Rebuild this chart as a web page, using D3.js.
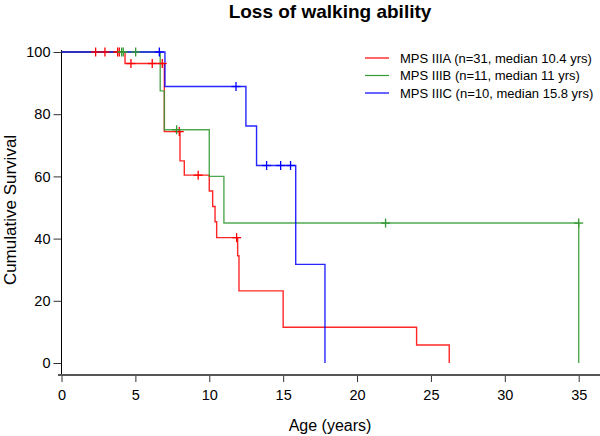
<!DOCTYPE html>
<html>
<head>
<meta charset="utf-8">
<script src="https://cdn.jsdelivr.net/npm/d3@7"></script>
<style>
  html, body { margin: 0; padding: 0; background: #fff; }
  svg { display: block; font-family: "Liberation Sans", Arial, Helvetica, sans-serif; }
</style>
</head>
<body>
<svg id="chart" width="600" height="436"></svg>
<script>
// ---- Data ----
const seriesNames = [
  "MPS IIIA (n=31, median 10.4 yrs)",
  "MPS IIIB (n=11, median 11 yrs)",
  "MPS IIIC (n=10, median 15.8 yrs)"
];
const seriesColors = ["#ff0000", "#339933", "#0000ff"];

// Step change times (years) and cumulative survival (%) after each step
const timesA = [0, 4.3, 6.96, 8.02, 8.31, 10.0, 10.23, 10.39, 10.5, 11.92, 12.01, 15.0, 24.03, 26.24];
const survA  = [100, 96.3, 74.4, 65.0, 60.4, 55.3, 50.3, 45.4, 40.3, 34.5, 23.2, 11.5, 5.8, 0];
const censorTimesA = [2.31, 2.94, 3.8, 3.91, 4.7, 6.14, 6.82, 7.97, 9.25, 11.85];
const censorSurvA  = [100, 100, 100, 100, 96.3, 96.3, 96.3, 74.4, 60.4, 40.3];

const timesB = [0, 6.68, 6.96, 10.0, 10.99, 35.0];
const survB  = [100, 87.5, 75.0, 60.0, 45.0, 0];
const censorTimesB = [4.07, 4.18, 5.02, 7.79, 21.93, 35.0];
const censorSurvB  = [100, 100, 100, 75.0, 45.0, 45.0];

const timesC = [0, 7.0, 12.48, 13.2, 15.85, 17.83];
const survC  = [100, 88.9, 76.2, 63.5, 31.7, 0];
const censorTimesC = [6.62, 11.81, 13.88, 14.83, 15.5];
const censorSurvC  = [100, 88.9, 63.5, 63.5, 63.5];

const xTicks = [0, 5, 10, 15, 20, 25, 30, 35];
const yTicks = [0, 20, 40, 60, 80, 100];

const titleText = "Loss of walking ability";
const xLabel = "Age (years)";
const yLabel = "Cumulative Survival";

// ---- Build series ----
const series = [
  { name: seriesNames[0], color: seriesColors[0], times: timesA, surv: survA, ct: censorTimesA, cs: censorSurvA },
  { name: seriesNames[1], color: seriesColors[1], times: timesB, surv: survB, ct: censorTimesB, cs: censorSurvB },
  { name: seriesNames[2], color: seriesColors[2], times: timesC, surv: survC, ct: censorTimesC, cs: censorSurvC }
];

const svg = d3.select("#chart");
const x = d3.scaleLinear().domain([0, 35]).range([61.5, 578.7]);
const y = d3.scaleLinear().domain([0, 100]).range([363, 52]);

// Title
svg.append("text")
  .attr("x", 330).attr("y", 18)
  .attr("text-anchor", "middle")
  .attr("font-size", 19).attr("font-weight", "bold")
  .text(titleText);

// Y axis
const yAxis = d3.axisLeft(y).tickValues(yTicks).tickSize(8).tickPadding(3).tickSizeOuter(0);
const gy = svg.append("g").attr("transform", "translate(61.5,0)").call(yAxis);
gy.select(".domain").remove();
gy.append("line").attr("x1", 0).attr("x2", 0).attr("y1", 50).attr("y2", 376).attr("stroke", "#000").attr("stroke-width", 1);
gy.selectAll(".tick line").attr("stroke", "#333");
gy.selectAll(".tick text").attr("font-size", 14.5).attr("fill", "#000")
  .style("font-family", "Liberation Sans, Arial, sans-serif");

// X axis
const xAxis = d3.axisBottom(x).tickValues(xTicks).tickSize(7).tickPadding(8).tickSizeOuter(0);
const gx = svg.append("g").attr("transform", "translate(0,375)").call(xAxis);
gx.select(".domain").remove();
gx.append("line").attr("x1", 58).attr("x2", 600).attr("y1", 0).attr("y2", 0).attr("stroke", "#555").attr("stroke-width", 2);
gx.selectAll(".tick line").attr("stroke", "#333");
gx.selectAll(".tick text").attr("font-size", 14.5).attr("fill", "#000")
  .style("font-family", "Liberation Sans, Arial, sans-serif");

// Axis labels
svg.append("text")
  .attr("x", 330).attr("y", 431)
  .attr("text-anchor", "middle").attr("font-size", 16)
  .text(xLabel);
svg.append("text")
  .attr("transform", "translate(16,210) rotate(-90)")
  .attr("text-anchor", "middle").attr("font-size", 17)
  .text(yLabel);

// Curves
const line = d3.line()
  .x(d => x(d[0]))
  .y(d => y(d[1]))
  .curve(d3.curveStepAfter);

series.forEach(s => {
  const pts = s.times.map((t, i) => [t, s.surv[i]]);
  svg.append("path")
    .attr("d", line(pts))
    .attr("fill", "none")
    .attr("stroke", s.color)
    .attr("stroke-width", 1.4)
    .attr("stroke-opacity", 0.85);
});

// Censor marks
series.forEach(s => {
  const g = svg.append("g").attr("stroke", s.color).attr("stroke-width", 1.3);
  s.ct.forEach((t, i) => {
    const cx = x(t), cy = y(s.cs[i]);
    g.append("line").attr("x1", cx).attr("x2", cx).attr("y1", cy - 4.5).attr("y2", cy + 4.5);
    g.append("line").attr("x1", cx - 4.5).attr("x2", cx + 4.5).attr("y1", cy).attr("y2", cy);
  });
});

// Legend
const legend = svg.append("g");
series.forEach((s, i) => {
  const ly = 58 + i * 17.5;
  legend.append("line")
    .attr("x1", 365).attr("x2", 389).attr("y1", ly).attr("y2", ly)
    .attr("stroke", s.color).attr("stroke-width", 1.2);
  legend.append("text")
    .attr("x", 400).attr("y", ly + 4.5)
    .attr("font-size", 13)
    .text(s.name);
});
</script>
</body>
</html>
